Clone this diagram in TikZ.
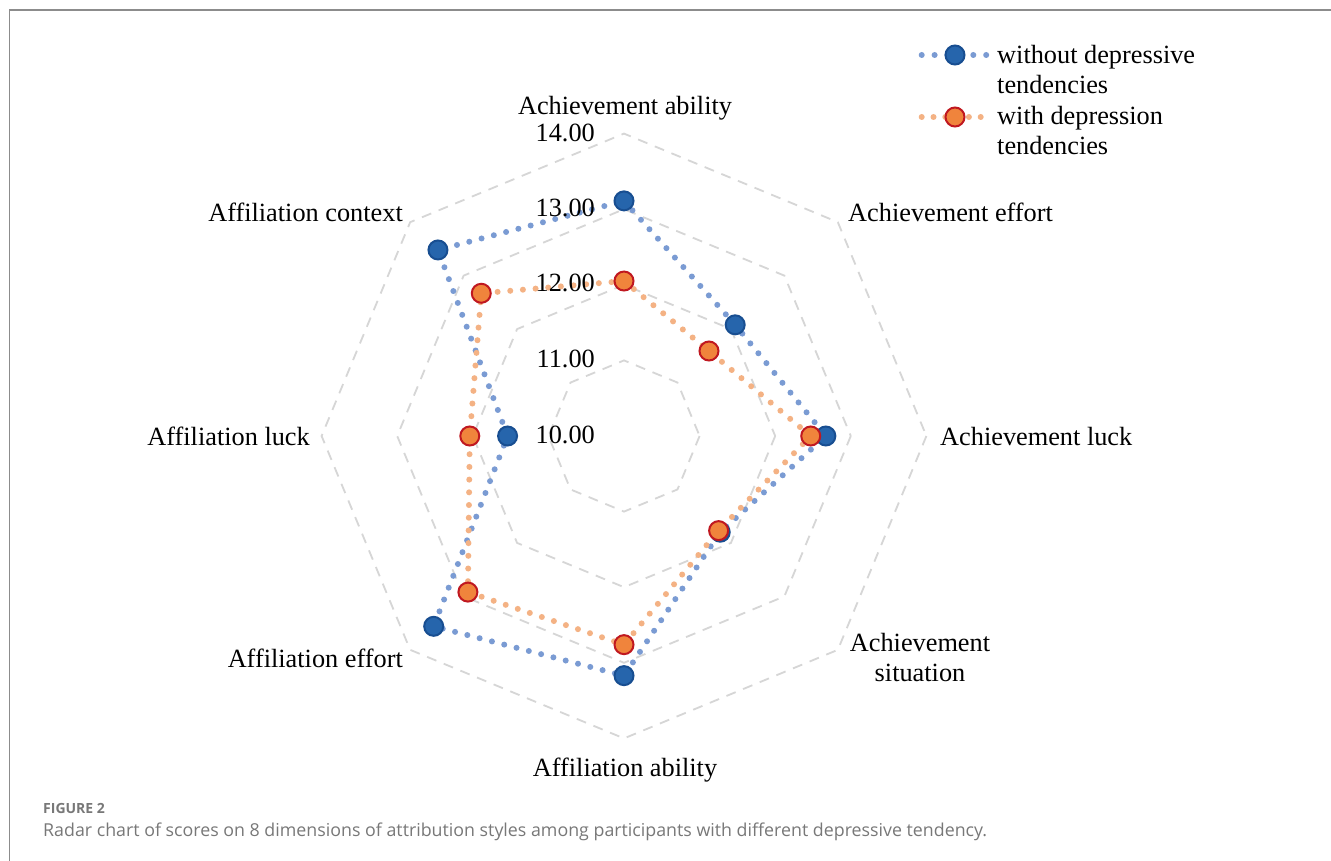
\documentclass[tikz,border=0pt]{standalone}
\usepackage{fontspec}
\setmainfont{Liberation Serif}
\newfontfamily\capfont{Open Sans}
\usetikzlibrary{calc}
\definecolor{ringgray}{RGB}{214,214,214}
\definecolor{framegray}{RGB}{140,140,140}
\definecolor{bluefill}{RGB}{38,101,172}
\definecolor{blueedge}{RGB}{24,78,145}
\definecolor{bluedotc}{RGB}{122,155,211}
\definecolor{orangefill}{RGB}{240,132,60}
\definecolor{orangeedge}{RGB}{192,24,32}
\definecolor{orangedotc}{RGB}{244,178,132}
\definecolor{capgray}{RGB}{120,120,120}
\tikzset{
  ringline/.style={draw=ringgray, line width=1.8pt, dash pattern=on 10pt off 8pt},
  bluedots/.style={draw=bluedotc, line width=6pt, line cap=round, dash pattern=on 0pt off 12.7pt},
  orangedots/.style={draw=orangedotc, line width=6pt, line cap=round, dash pattern=on 0pt off 12.7pt},
  bluept/.style={circle, fill=bluefill, draw=blueedge, line width=2pt, minimum size=19pt, inner sep=0pt},
  orangept/.style={circle, fill=orangefill, draw=orangeedge, line width=2pt, minimum size=19pt, inner sep=0pt},
  lab/.style={font=\fontsize{26.3}{30}\selectfont, inner sep=0pt, text=black},
  ticklab/.style={font=\fontsize{26.3}{30}\selectfont, inner sep=0pt, anchor=base east, text=black},
  captext/.style={font=\capfont\fontsize{17.8}{21}\selectfont, text=capgray, inner sep=0pt, anchor=base west},
  capfig/.style={font=\capfont\bfseries\fontsize{14}{16}\selectfont, text=capgray, inner sep=0pt, anchor=base west}
}
\begin{document}
\begin{tikzpicture}[x=1pt,y=-1pt]
\useasboundingbox (0,0) rectangle (1331,861);
\fill[white] (0,0) rectangle (1331,861);
\draw[framegray, line width=1.2pt] (9.3,861) -- (9.3,10) -- (1331,10);

\begin{scope}[shift={(624,436)}]
  % rings
  \foreach \v in {1,2,3,4} {
    \pgfmathsetmacro{\rr}{\v*75.6}
    \draw[ringline] (0:\rr) -- (45:\rr) -- (90:\rr) -- (135:\rr) -- (180:\rr) -- (225:\rr) -- (270:\rr) -- (315:\rr) -- cycle;
  }
  % data coordinates (angles: 270 = up, clockwise)
  \coordinate (b1) at (270:{3.11*75.6});
  \coordinate (b2) at (315:{2.08*75.6});
  \coordinate (b3) at (0:{2.67*75.6});
  \coordinate (b4) at (45:{1.80*75.6});
  \coordinate (b5) at (90:{3.17*75.6});
  \coordinate (b6) at (135:{3.56*75.6});
  \coordinate (b7) at (180:{1.54*75.6});
  \coordinate (b8) at (225:{3.48*75.6});
  \coordinate (o1) at (270:{2.05*75.6});
  \coordinate (o2) at (315:{1.59*75.6});
  \coordinate (o3) at (0:{2.47*75.6});
  \coordinate (o4) at (45:{1.77*75.6});
  \coordinate (o5) at (90:{2.76*75.6});
  \coordinate (o6) at (135:{2.92*75.6});
  \coordinate (o7) at (180:{2.04*75.6});
  \coordinate (o8) at (225:{2.67*75.6});
\end{scope}

\draw[bluedots] (b1) -- (b2) -- (b3) -- (b4) -- (b5) -- (b6) -- (b7) -- (b8) -- cycle;
\draw[orangedots] (o1) -- (o2) -- (o3) -- (o4) -- (o5) -- (o6) -- (o7) -- (o8) -- cycle;
\foreach \i in {1,...,8} { \node[bluept] (bm\i) at (b\i) {}; }
\foreach \i in {1,...,8} { \node[orangept] (om\i) at (o\i) {}; }

% tick labels
\node[ticklab] (t14) at (595,141.7) {14.00};
\node[ticklab] (t13) at (595,216.7) {13.00};
\node[ticklab] (t12) at (595,291.7) {12.00};
\node[ticklab] (t11) at (595,367.3) {11.00};
\node[ticklab] (t10) at (595,443.3) {10.00};

% axis labels
\node[lab, anchor=base] (l1) at (625,114.3) {Achievement ability};
\node[lab, anchor=base west] (l2) at (848,222) {Achievement effort};
\node[lab, anchor=base west] (l3) at (940,445) {Achievement luck};
\node[lab, anchor=base] (l4a) at (920,651.7) {Achievement};
\node[lab, anchor=base] (l4b) at (920,681.7) {situation};
\node[lab, anchor=base] (l5) at (625,776) {Affiliation ability};
\node[lab, anchor=base east] (l6) at (403,667) {Affiliation effort};
\node[lab, anchor=base east] (l7) at (310,445) {Affiliation luck};
\node[lab, anchor=base east] (l8) at (403,222) {Affiliation context};

% legend
\coordinate (lb1) at (921.7,55);
\coordinate (lb2) at (988,55);
\coordinate (lo1) at (921.7,117);
\coordinate (lo2) at (981,117);
\draw[bluedots, dash pattern=on 0pt off 12.9pt] (lb1) -- (lb2);
\draw[orangedots, dash pattern=on 0pt off 11.8pt] (lo1) -- (lo2);
\node[bluept] (lgb) at (955,55) {};
\node[orangept] (lgo) at (955,117) {};
\node[lab, anchor=base west] (lt1) at (997,63.3) {without depressive};
\node[lab, anchor=base west] (lt2) at (997,93.3) {tendencies};
\node[lab, anchor=base west] (lt3) at (997,124.3) {with depression};
\node[lab, anchor=base west] (lt4) at (997,155) {tendencies};

% caption
\node[capfig] (fig) at (43,813) {FIGURE 2};
\node[captext] (capt) at (43,836.7) {Radar chart of scores on 8 dimensions of attribution styles among participants with different depressive tendency.};
\end{tikzpicture}
\end{document}
